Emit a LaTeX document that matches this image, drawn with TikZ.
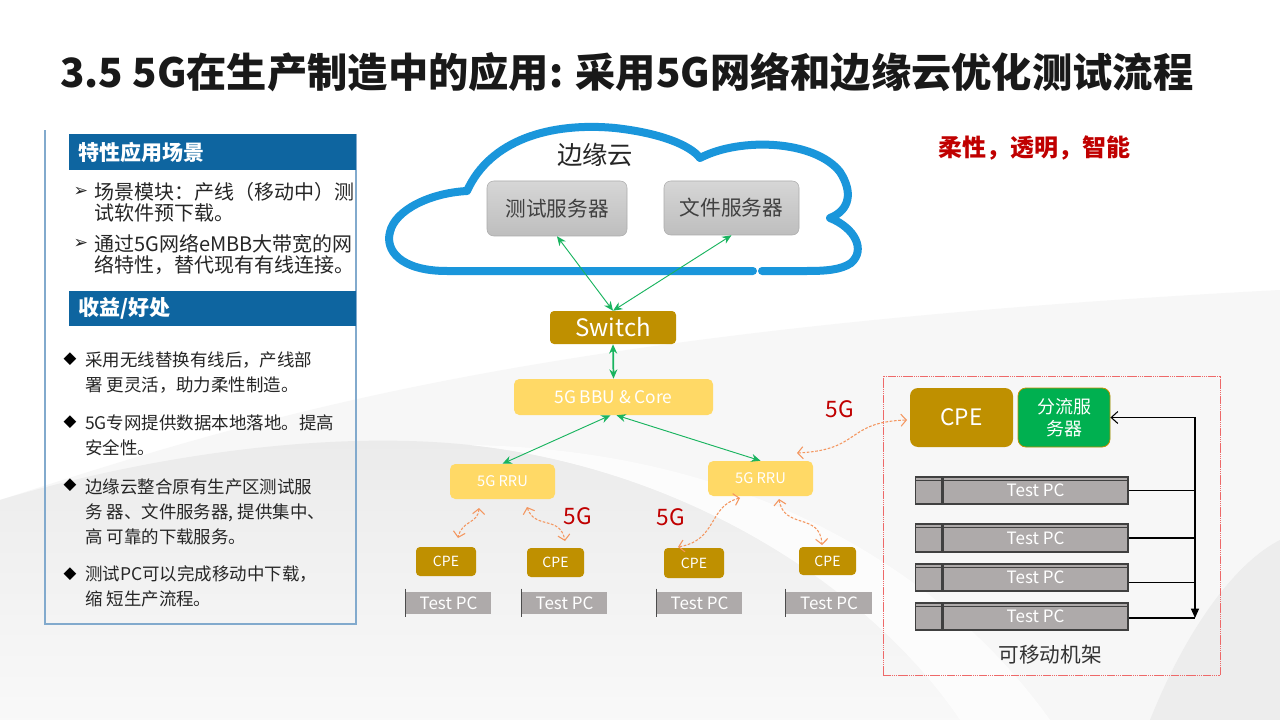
\documentclass[tikz,border=0pt]{standalone}
\usepackage{fontspec}
\setmainfont{Noto Sans CJK SC}
\newfontfamily\symfont{DejaVu Sans}
\usetikzlibrary{arrows.meta,calc}
\definecolor{hdrblue}{RGB}{14,101,160}
\definecolor{panelline}{RGB}{130,170,205}
\definecolor{cloudblue}{RGB}{26,150,219}
\definecolor{gold}{RGB}{191,144,0}
\definecolor{lightgold}{RGB}{255,217,102}
\definecolor{flgreen}{RGB}{0,176,80}
\definecolor{arrgreen}{RGB}{25,180,95}
\definecolor{orangea}{RGB}{244,150,95}
\definecolor{darkred}{RGB}{192,0,0}
\definecolor{pcgray}{RGB}{174,170,170}
\definecolor{srvtop}{RGB}{214,214,214}
\definecolor{srvbot}{RGB}{190,190,190}
\definecolor{rackred}{RGB}{238,105,105}
\newcommand\fsz[2]{\fontsize{#1pt}{#2pt}\selectfont}
\tikzset{
  hdr/.style={fill=hdrblue, text=white, anchor=north west, align=left,
    text width=201pt, inner xsep=7pt, inner ysep=0pt, font=\fsz{15.75}{18}\bfseries},
  bodyA/.style={anchor=west, align=left, inner sep=0pt, text=black!85, font=\fsz{15}{15.75}},
  bodyB/.style={anchor=west, align=left, inner sep=0pt, text=black!85, font=\fsz{13.1}{18.75}},
  bulA/.style={inner sep=0pt, font=\symfont\fsz{13}{14}, text=black!85},
  bulB/.style={inner sep=0pt, font=\symfont\fsz{12.5}{14}, text=black},
  srv/.style={draw=gray!65, rounded corners=5pt, top color=srvtop, bottom color=srvbot,
    text=black!75, font=\fsz{15.5}{18}, inner sep=0pt},
  goldbox/.style={fill=gold, text=white, rounded corners=3pt, inner sep=0pt},
  ltbox/.style={fill=lightgold, text=white, rounded corners=4pt, inner sep=0pt},
  pcsmall/.style={fill=pcgray, text=white, inner sep=0pt, font=\fsz{12.75}{14},
    minimum width=63.75pt, minimum height=16.5pt},
  pcrack/.style={fill=pcgray, draw=black!75, line width=0.8pt, text=white, inner sep=0pt,
    font=\fsz{12.75}{14}, minimum width=138.75pt},
  pcrackL/.style={fill=pcgray, draw=black!75, line width=0.8pt, inner sep=0pt,
    minimum width=19.5pt, anchor=east},
  garr/.style={draw=arrgreen, line width=0.7pt,
    {Stealth[length=7pt,width=6pt]}-{Stealth[length=7pt,width=6pt]}},
  oarr/.style={draw=orangea, line width=0.8pt, dash pattern=on 2pt off 1.2pt,
    {Straight Barb[length=4pt,width=9pt]}-{Straight Barb[length=4pt,width=9pt]}},
  redlbl/.style={text=darkred, font=\fsz{17}{20}, inner sep=0pt},
}
\begin{document}
\begin{tikzpicture}[x=0.75pt,y=-0.75pt]
\useasboundingbox (0,0) rectangle (1280,720);
% ---------- background swooshes ----------
\fill[white] (0,0) rectangle (1280,720);
\fill[gray!6] (0,500) .. controls (250,420) and (520,330) .. (1280,290) -- (1280,720) -- (0,720) -- cycle;
\shade[top color=gray!16, bottom color=gray!5] (0,500) .. controls (150,455) and (330,430) .. (470,445)
  .. controls (700,470) and (880,600) .. (960,720) -- (0,720) -- cycle;
\fill[white, opacity=0.7] (470,445) .. controls (700,470) and (880,600) .. (960,720) -- (1050,720)
  .. controls (950,580) and (760,450) .. (470,445) -- cycle;
\fill[gray!14] (1150,720) .. controls (1190,620) and (1240,560) .. (1280,540) -- (1280,720) -- cycle;
% ---------- title ----------
\node[anchor=west, inner sep=0pt, text=black!90, font=\fsz{30.2}{34}\bfseries] (title) at (60,72)
  {3.5 5G在生产制造中的应用: 采用5G网络和边缘云优化测试流程};
\node[anchor=west, inner sep=0pt, text=darkred, font=\fsz{18}{20}\bfseries] (motto) at (938,148)
  {柔性，透明，智能};
% ---------- left panel ----------
\draw[panelline, line width=1pt] (356,134) -- (356,624) -- (45,624) -- (45,130);
\node[hdr, minimum height=27pt] (h1) at (69,134) {特性应用场景};
\node[bulA] (ba1) at (81,192) {➢};
\node[bodyA] (ta1) at (94,202.5) {场景模块：产线（移动中）测\\试软件预下载。};
\node[bulA] (ba2) at (81,244) {➢};
\node[bodyA] (ta2) at (94,254.5) {通过5G网络eMBB大带宽的网\\络特性，替代现有有线连接。};
\node[hdr, minimum height=26.25pt] (h2) at (69,291) {收益/好处};
\node[bulB] (bb1) at (70,359) {◆};
\node[bodyB] (tb1) at (85,372.5) {采用无线替换有线后，产线部\\署 更灵活，助力柔性制造。};
\node[bulB] (bb2) at (70,422) {◆};
\node[bodyB] (tb2) at (85,435) {5G专网提供数据本地落地。提高\\安全性。};
\node[bulB] (bb3) at (70,485) {◆};
\node[bodyB] (tb3) at (85,511.5) {边缘云整合原有生产区测试服\\务 器、文件服务器, 提供集中、\\高 可靠的下载服务。};
\node[bulB] (bb4) at (70,574) {◆};
\node[bodyB] (tb4) at (85,586) {测试PC可以完成移动中下载，\\缩 短生产流程。};
% ---------- cloud ----------
\draw[cloudblue, line width=6pt, line cap=round, line join=round]
  (753,271) -- (447,271) .. controls (400,271) and (385,250) .. (390,232)
  .. controls (395,210) and (430,193) .. (467,191)
  .. controls (490,140) and (550,122) .. (615,128)
  .. controls (660,133) and (690,145) .. (700,158)
  .. controls (740,137) and (815,140) .. (840,172)
  .. controls (853,192) and (850,210) .. (830,218)
  .. controls (855,228) and (866,250) .. (851,263)
  .. controls (841,270) and (825,271) .. (807,271) -- (762,271);
\node[inner sep=0pt, text=black!85, font=\fsz{19}{22}] (cloudlbl) at (595,155) {边缘云};
\node[srv, minimum width=105pt, minimum height=41.25pt] (srv1) at (557,208.5) {测试服务器};
\node[srv, minimum width=101.25pt, minimum height=40.5pt] (srv2) at (731.5,208) {文件服务器};
% ---------- core chain ----------
\node[goldbox, minimum width=94.5pt, minimum height=24.75pt, font=\fsz{18}{20}] (sw) at (613,327.5) {Switch};
\node[ltbox, minimum width=149.25pt, minimum height=27pt, font=\fsz{13}{15}] (bbu) at (613.5,397) {5G BBU \& Core};
\node[ltbox, minimum width=78.75pt, minimum height=26.25pt, font=\fsz{11}{13}] (rru1) at (502.5,481.5) {5G RRU};
\node[ltbox, minimum width=78.75pt, minimum height=26.25pt, font=\fsz{11}{13}] (rru2) at (760.5,478.5) {5G RRU};
\draw[garr] (sw.north) -- (srv1.south);
\draw[garr] (sw.north) -- (srv2.south);
\draw[garr, line width=1.3pt] (sw.south) -- (bbu.north);
\draw[garr] ($(bbu.south)+(-3,0)$) -- (rru1.north);
\draw[garr] ($(bbu.south)+(3,0)$) -- (rru2.north);
% ---------- CPEs and test PCs ----------
\node[goldbox, minimum width=45pt, minimum height=21.75pt, font=\fsz{10.5}{12}] (cpe1) at (446,561.5) {CPE};
\node[goldbox, minimum width=42.75pt, minimum height=21.75pt, font=\fsz{10.5}{12}] (cpe2) at (555.5,562.5) {CPE};
\node[goldbox, minimum width=45pt, minimum height=22.5pt, font=\fsz{10.5}{12}] (cpe3) at (694,563) {CPE};
\node[goldbox, minimum width=42.75pt, minimum height=21pt, font=\fsz{10.5}{12}] (cpe4) at (827.5,561) {CPE};
\node[pcsmall] (tpc1) at (448.5,603) {Test PC};
\node[pcsmall] (tpc2) at (564.5,603) {Test PC};
\node[pcsmall] (tpc3) at (699.5,603) {Test PC};
\node[pcsmall, minimum width=64.5pt] (tpc4) at (829,603) {Test PC};
\foreach \p in {tpc1,tpc2,tpc3,tpc4}{
  \draw[black!70, line width=0.8pt] ($(\p.north west)+(0,-3)$) -- ($(\p.south west)+(0,3)$);
}
% ---------- 5G wireless links ----------
\coordinate (a1s) at (479,508); \coordinate (a1e) at (458,538);
\coordinate (a2s) at (527,507); \coordinate (a2e) at (565,541);
\coordinate (a3s) at (740,498); \coordinate (a3e) at (678,547);
\coordinate (a4s) at (779,499); \coordinate (a4e) at (822,545);
\coordinate (a5s) at (797,453); \coordinate (a5e) at (907,420);
\draw[oarr] (a1s) .. controls (478,524) and (462,520) .. (a1e);
\draw[oarr] (a2s) .. controls (535,530) and (560,515) .. (a2e);
\draw[oarr] (a3s) .. controls (708,506) and (718,540) .. (a3e);
\draw[oarr] (a4s) .. controls (784,530) and (820,512) .. (a4e);
\draw[oarr] (a5s) .. controls (862,450) and (845,422) .. (a5e);
\node[redlbl] (g1) at (578,516) {5G};
\node[redlbl] (g2) at (671,517) {5G};
\node[redlbl] (g3) at (840,409) {5G};
% ---------- mobile rack ----------
\node[draw=rackred, line width=0.75pt, dash pattern=on 1.2pt off 0.4pt, minimum width=252.75pt, minimum height=224.25pt, inner sep=0pt] (rack) at (1051.5,525.5) {};
\node[goldbox, rounded corners=6pt, minimum width=77.25pt, minimum height=44.25pt, font=\fsz{17}{20}] (cpeB) at (961.5,417.5) {CPE};
\node[fill=flgreen, draw=gold, line width=0.6pt, rounded corners=6pt, text=white, inner sep=0pt, align=center,
  minimum width=69pt, minimum height=44.25pt, font=\fsz{13.5}{16.5}] (fl) at (1064,417.5) {分流服\\务器};
\node[pcrack, minimum height=20.25pt] (rpc1) at (1035.5,490.5) {Test PC};
\node[pcrack, minimum height=21pt] (rpc2) at (1035.5,538) {Test PC};
\node[pcrack, minimum height=20.25pt] (rpc3) at (1035.5,577.5) {Test PC};
\node[pcrack, minimum height=20.25pt] (rpc4) at (1035.5,616.5) {Test PC};
\node[pcrackL, minimum height=20.25pt] (rpc1l) at (rpc1.west) {};
\node[pcrackL, minimum height=21pt] (rpc2l) at (rpc2.west) {};
\node[pcrackL, minimum height=20.25pt] (rpc3l) at (rpc3.west) {};
\node[pcrackL, minimum height=20.25pt] (rpc4l) at (rpc4.west) {};
\foreach \p in {rpc1,rpc2,rpc3,rpc4}{
  \draw[black!75, line width=0.7pt] ($(\p l.north west)+(0,4)$) -- ($(\p.north east)+(0,4)$);
}
\coordinate (vbot) at (1195,618);
\draw[black, line width=0.8pt, {Straight Barb[length=5pt,width=9pt]}-{Triangle[length=7pt,width=6pt]}] (fl.east) -| (vbot);
\draw[black, line width=0.8pt] (rpc1.east) -- (rpc1.east -| vbot);
\draw[black, line width=0.8pt] (rpc2.east) -- (rpc2.east -| vbot);
\draw[black, line width=0.8pt] ($(rpc3.east)+(0,5)$) -- ($(rpc3.east -| vbot)+(0,5)$);
\draw[black, line width=0.8pt] ($(rpc4.east)+(0,1.5)$) -- ($(rpc4.east -| vbot)+(0,1.5)$);
\node[inner sep=0pt, text=black!80, font=\fsz{15.5}{18}] (racklbl) at (1050,655) {可移动机架};
\end{tikzpicture}
\end{document}
